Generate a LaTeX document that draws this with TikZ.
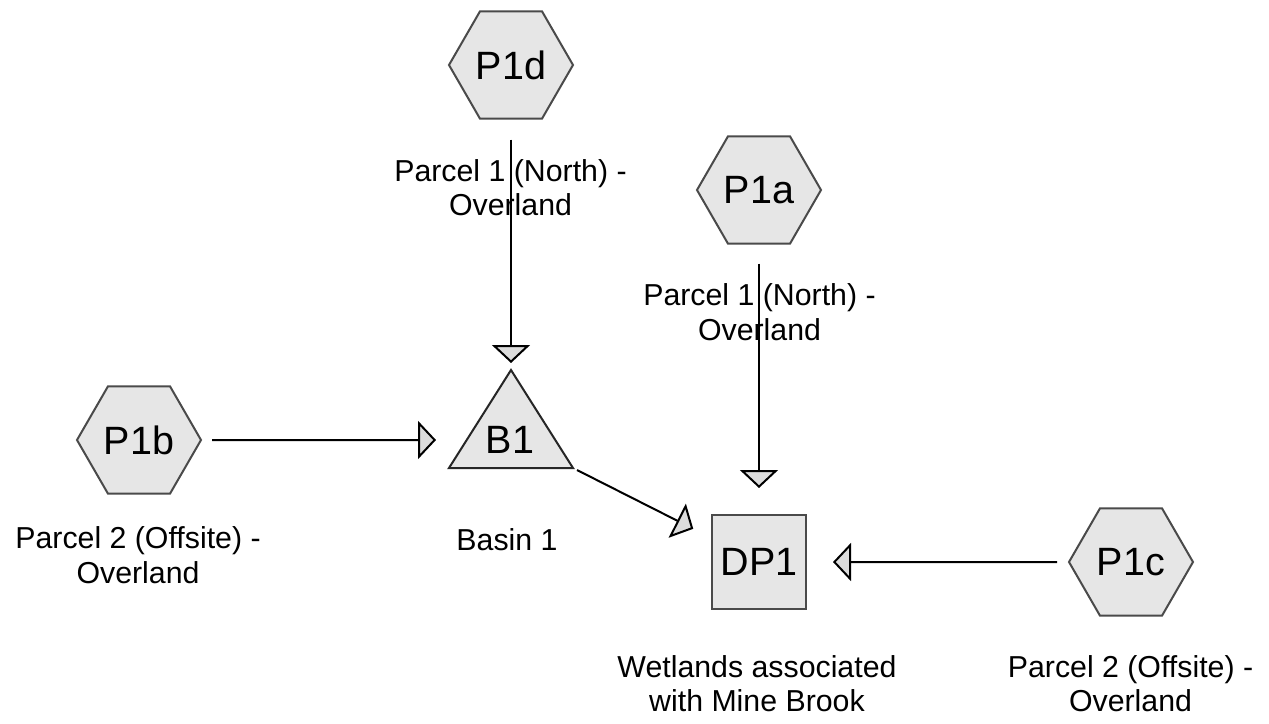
\documentclass[tikz,border=0pt]{standalone}
\usepackage{fontspec}
\setmainfont{Liberation Sans}
\usetikzlibrary{shapes.geometric,arrows.meta}
\definecolor{shapefill}{HTML}{E6E6E6}
\definecolor{tipfill}{HTML}{DCDCDC}
\definecolor{shapeline}{HTML}{4A4A4A}
\tikzset{
  hexnode/.style={regular polygon, regular polygon sides=6, minimum size=124pt,
    inner sep=0pt, outer sep=0pt, draw=shapeline, fill=shapefill, line width=2pt,
    font=\fontsize{39.5}{47}\selectfont},
  boxnode/.style={rectangle, minimum size=94pt, inner sep=0pt, outer sep=0pt,
    draw=shapeline, fill=shapefill, line width=2pt, font=\fontsize{39.5}{47}\selectfont},
  trishape/.style={draw=black!85, fill=shapefill, line width=2pt, line join=miter},
  trilabel/.style={inner sep=0pt, font=\fontsize{39.5}{47}\selectfont},
  flow/.style={line width=2pt, draw=black, -{Triangle[length=18pt,width=38pt,fill=tipfill]}},
  lbl/.style={font=\fontsize{30.3}{34.5}\selectfont, align=center, anchor=base, inner sep=0pt},
}
\begin{document}
\begin{tikzpicture}[x=1pt,y=-1pt]
\useasboundingbox[fill=white] (0,0) rectangle (1269,723);

% nodes
\node[hexnode] (P1d) at (511,65) {P1d};
\node[hexnode] (P1a) at (759,190) {P1a};
\node[hexnode] (P1b) at (139,440) {P1b};
\node[hexnode] (P1c) at (1131,562) {P1c};
\node[boxnode] (DP1) at (759,562) {DP1};

% basin triangle
\draw[trishape] (511,370) coordinate (B1top) -- (573,468) coordinate (B1r)
  -- (449,468) coordinate (B1l) -- cycle;
\node[trilabel] (B1) at (510,440) {B1};
\coordinate (B1w) at (466.7,440);

% labels (anchor = baseline of the last line)
\node[lbl] (L1d) at (510.5,215.5) {Parcel 1 (North) -\\Overland};
\node[lbl] (L1a) at (759.5,340) {Parcel 1 (North) -\\Overland};
\node[lbl] (L1b) at (138,583) {Parcel 2 (Offsite) -\\Overland};
\node[lbl] (LB1) at (507,550) {Basin 1};
\node[lbl] (LDP1) at (757,711.5) {Wetlands associated\\with Mine Brook};
\node[lbl] (L1c) at (1130.5,711.5) {Parcel 2 (Offsite) -\\Overland};

% connectors
\draw[flow, shorten <=21pt, shorten >=7pt] (P1d) -- (B1top);
\draw[flow, shorten <=11pt, shorten >=30.7pt] (P1b) -- (B1w);
\draw[flow, shorten <=4.5pt, shorten >=21pt] (B1r) -- (DP1);
\draw[flow, shorten <=20pt, shorten >=27pt] (P1a) -- (DP1);
\draw[flow, shorten <=12pt, shorten >=27pt] (P1c) -- (DP1);
\end{tikzpicture}
\end{document}
